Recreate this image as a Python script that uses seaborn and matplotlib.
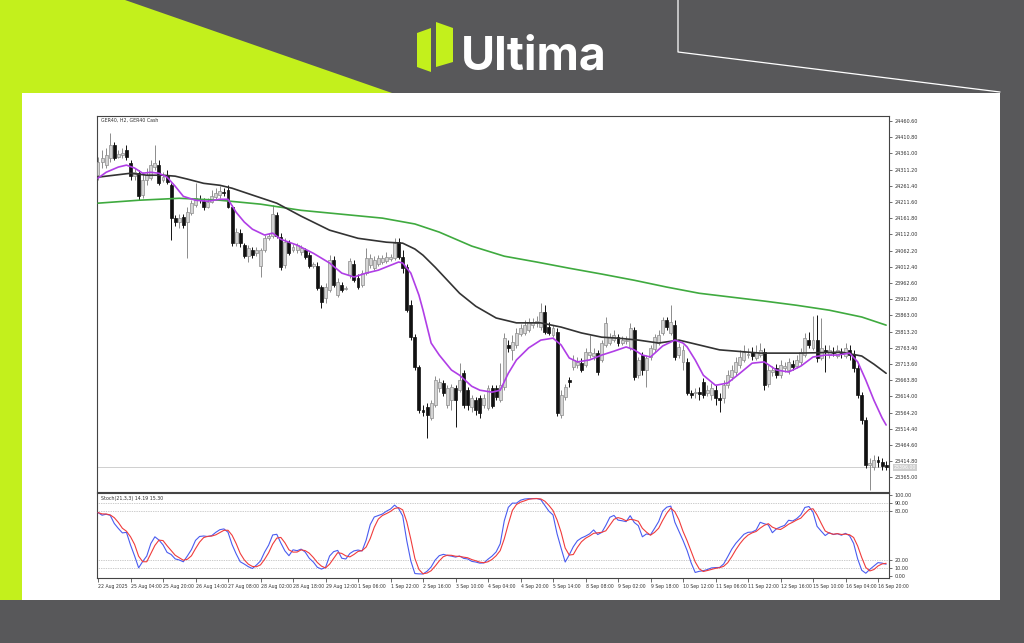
import numpy as np
import pandas as pd
import matplotlib
matplotlib.use("Agg")
import matplotlib.pyplot as plt
from matplotlib.patches import Polygon, Rectangle
import seaborn as sns

# ---------------- data ----------------
symbol_label = "GER40, H2, GER40 Cash"
brand = "Ultima"

opens = [24294, 24334, 24325, 24346, 24386, 24349, 24356, 24371, 24331, 24291,
         24300, 24233, 24279, 24285, 24319, 24325, 24279, 24294, 24263, 24162,
         24150, 24165, 24150, 24177, 24202, 24220, 24214, 24196, 24211, 24226,
         24233, 24242, 24248, 24196, 24085, 24116, 24079, 24045, 24064, 24054,
         24014, 24064, 24100, 24107, 24171, 24104, 24017, 24088, 24064, 24064,
         24057, 24064, 24048, 24014, 24014, 23950, 23916, 23940, 24033, 23925,
         23956, 23944, 23987, 24020, 23978, 23956, 23993, 24017, 24008, 24020,
         24027, 24030, 24036, 24039, 24088, 24042, 24011, 23894, 23796, 23704,
         23572, 23581, 23548, 23588, 23639, 23655, 23588, 23602, 23639, 23633,
         23685, 23633, 23581, 23602, 23609, 23588, 23578, 23639, 23639, 23602,
         23642, 23772, 23757, 23772, 23805, 23809, 23818, 23833, 23840, 23827,
         23873, 23827, 23803, 23812, 23557, 23612, 23664, 23704, 23710, 23716,
         23710, 23741, 23738, 23747, 23726, 23772, 23778, 23787, 23796, 23778,
         23784, 23763, 23818, 23679, 23741, 23695, 23735, 23760, 23778, 23809,
         23849, 23809, 23833, 23741, 23720, 23720, 23624, 23624, 23627, 23658,
         23624, 23618, 23633, 23609, 23609, 23648, 23673, 23689, 23710, 23726,
         23741, 23750, 23732, 23741, 23750, 23651, 23689, 23701, 23679, 23701,
         23695, 23713, 23707, 23720, 23741, 23787, 23763, 23787, 23732, 23757,
         23741, 23750, 23738, 23750, 23738, 23757, 23744, 23701, 23618, 23541,
         23403, 23396, 23418, 23412, 23403]
closes = [24334, 24346, 24356, 24386, 24346, 24359, 24362, 24349, 24291, 24303,
          24229, 24279, 24294, 24325, 24331, 24269, 24288, 24273, 24162, 24150,
          24162, 24140, 24180, 24208, 24223, 24217, 24196, 24211, 24229, 24239,
          24245, 24239, 24196, 24085, 24119, 24085, 24045, 24070, 24048, 24064,
          24064, 24100, 24107, 24174, 24107, 24011, 24088, 24054, 24073, 24079,
          24070, 24042, 24014, 24020, 23947, 23904, 23950, 24033, 23956, 23965,
          23940, 23947, 24030, 23971, 23950, 23993, 24039, 24039, 24033, 24039,
          24039, 24042, 24042, 24085, 24042, 24008, 23879, 23796, 23704, 23572,
          23566, 23557, 23594, 23664, 23658, 23624, 23639, 23642, 23602, 23664,
          23588, 23588, 23609, 23572, 23563, 23609, 23639, 23584, 23612, 23648,
          23793, 23763, 23781, 23809, 23824, 23833, 23843, 23843, 23846, 23873,
          23812, 23809, 23824, 23563, 23618, 23642, 23658, 23726, 23720, 23695,
          23750, 23750, 23747, 23689, 23778, 23840, 23796, 23803, 23778, 23787,
          23787, 23824, 23673, 23726, 23695, 23732, 23763, 23796, 23803, 23849,
          23827, 23843, 23735, 23766, 23757, 23624, 23618, 23627, 23621, 23618,
          23633, 23639, 23609, 23602, 23648, 23679, 23695, 23720, 23735, 23750,
          23744, 23738, 23750, 23757, 23648, 23695, 23695, 23679, 23710, 23707,
          23720, 23704, 23726, 23750, 23793, 23772, 23787, 23732, 23763, 23750,
          23757, 23747, 23757, 23744, 23763, 23741, 23701, 23618, 23541, 23403,
          23409, 23418, 23412, 23399, 23396]
highs = [24349, 24371, 24377, 24423, 24396, 24371, 24377, 24386, 24340, 24316,
         24309, 24303, 24316, 24340, 24386, 24340, 24303, 24309, 24269, 24171,
         24174, 24174, 24196, 24217, 24269, 24233, 24223, 24223, 24248, 24254,
         24260, 24254, 24263, 24202, 24131, 24128, 24085, 24079, 24073, 24073,
         24070, 24110, 24116, 24202, 24180, 24116, 24100, 24094, 24082, 24085,
         24079, 24070, 24057, 24027, 24027, 23956, 23962, 24048, 24045, 23978,
         23965, 23953, 24039, 24033, 23990, 24002, 24070, 24051, 24045, 24048,
         24048, 24057, 24051, 24100, 24100, 24064, 24020, 23910, 23805, 23710,
         23588, 23594, 23602, 23676, 23670, 23664, 23648, 23651, 23648, 23716,
         23695, 23642, 23618, 23612, 23618, 23621, 23648, 23648, 23648, 23716,
         23809, 23787, 23803, 23824, 23836, 23849, 23855, 23855, 23861, 23901,
         23894, 23843, 23833, 23824, 23633, 23651, 23673, 23741, 23735, 23732,
         23763, 23803, 23763, 23757, 23787, 23858, 23809, 23818, 23805, 23800,
         23800, 23840, 23827, 23735, 23750, 23741, 23772, 23805, 23818, 23858,
         23858, 23894, 23849, 23778, 23772, 23732, 23633, 23639, 23642, 23670,
         23648, 23655, 23648, 23624, 23664, 23695, 23710, 23735, 23757, 23772,
         23763, 23766, 23772, 23778, 23763, 23710, 23707, 23713, 23726, 23720,
         23732, 23726, 23741, 23763, 23809, 23812, 23861, 23864, 23855, 23772,
         23772, 23766, 23772, 23763, 23778, 23772, 23757, 23713, 23627, 23550,
         23424, 23433, 23430, 23424, 23415]
lows = [24279, 24316, 24316, 24334, 24340, 24346, 24346, 24340, 24279, 24279,
        24217, 24223, 24263, 24279, 24309, 24263, 24273, 24266, 24094, 24137,
        24131, 24131, 24039, 24171, 24196, 24208, 24186, 24193, 24208, 24217,
        24223, 24229, 24193, 24076, 24076, 24073, 24039, 24027, 24039, 24045,
        23981, 24057, 24094, 24100, 24100, 24002, 24008, 24048, 24057, 24054,
        24048, 24036, 24008, 24008, 23940, 23885, 23901, 23934, 23950, 23919,
        23934, 23940, 23978, 23965, 23944, 23950, 23987, 24008, 24002, 24014,
        24020, 24024, 24030, 24033, 24036, 23993, 23873, 23787, 23695, 23563,
        23554, 23486, 23541, 23581, 23627, 23615, 23578, 23572, 23519, 23627,
        23578, 23572, 23566, 23557, 23548, 23578, 23572, 23578, 23602, 23597,
        23633, 23750, 23726, 23763, 23800, 23803, 23812, 23824, 23827, 23818,
        23805, 23803, 23796, 23554, 23548, 23602, 23642, 23695, 23701, 23689,
        23704, 23732, 23726, 23679, 23720, 23766, 23772, 23781, 23769, 23772,
        23775, 23757, 23664, 23670, 23679, 23642, 23726, 23750, 23772, 23803,
        23818, 23803, 23726, 23732, 23695, 23618, 23609, 23609, 23602, 23609,
        23615, 23602, 23588, 23566, 23594, 23639, 23664, 23679, 23701, 23720,
        23732, 23726, 23726, 23735, 23633, 23642, 23676, 23670, 23670, 23689,
        23682, 23695, 23701, 23710, 23735, 23763, 23757, 23720, 23726, 23689,
        23732, 23738, 23732, 23732, 23732, 23726, 23689, 23609, 23529, 23393,
        23326, 23387, 23396, 23387, 23387]

# moving averages (bar index, price)
ma_fast_idx = [0, 2, 5, 7, 9, 11, 13, 15, 17, 19, 21, 24, 27, 30, 32, 34, 36, 38, 41, 43,
               45, 49, 53, 57, 60, 63, 66, 69, 72, 74, 75, 77, 79, 80, 82, 84, 87, 89, 92, 94,
               97, 99, 101, 103, 106, 109, 112, 114, 116, 118, 121, 124, 127, 130, 132, 134, 136, 139, 142, 144,
               145, 147, 149, 152, 155, 158, 161, 164, 167, 170, 173, 176, 179, 182, 185, 187, 189, 191, 193, 194]
ma_fast_val = [24285, 24303, 24319, 24325, 24316, 24300, 24303, 24300, 24288, 24260,
               24229, 24217, 24214, 24220, 24220, 24180, 24150, 24128, 24110, 24116,
               24097, 24079, 24054, 24024, 23993, 23981, 23993, 24002, 24017, 24027,
               24024, 23993, 23925, 23879, 23778, 23741, 23695, 23679, 23645, 23633,
               23627, 23633, 23685, 23726, 23763, 23787, 23793, 23772, 23732, 23720,
               23726, 23741, 23753, 23766, 23757, 23741, 23735, 23769, 23787, 23778,
               23766, 23726, 23679, 23648, 23655, 23685, 23716, 23720, 23695, 23689,
               23707, 23735, 23741, 23741, 23747, 23720, 23664, 23602, 23548, 23526]
ma_mid_idx = [0, 8, 12, 16, 19, 22, 26, 30, 33, 38, 44, 50, 57, 64, 71, 75, 78, 80, 83, 86,
              89, 93, 98, 103, 109, 114, 119, 124, 128, 133, 138, 143, 148, 153, 163, 173, 183, 188, 191, 194]
ma_mid_val = [24288, 24300, 24294, 24294, 24291, 24282, 24269, 24263, 24254, 24233,
              24208, 24168, 24125, 24100, 24088, 24085, 24067, 24048, 24011, 23971,
              23931, 23891, 23855, 23840, 23840, 23827, 23809, 23796, 23793, 23787,
              23778, 23787, 23772, 23757, 23747, 23747, 23750, 23738, 23713, 23685]
ma_slow_idx = [0, 10, 20, 30, 40, 50, 60, 70, 78, 84, 92, 100, 108, 116, 124, 132, 140, 148, 156, 164,
               172, 180, 188, 194]
ma_slow_val = [24208, 24217, 24223, 24217, 24205, 24186, 24174, 24162, 24144, 24119,
               24076, 24045, 24027, 24008, 23990, 23971, 23950, 23931, 23919, 23907,
               23894, 23879, 23858, 23833]

price_ticks = [24460.60, 24410.80, 24361.00, 24311.20, 24261.40, 24211.60, 24161.80,
               24112.00, 24062.20, 24012.40, 23962.60, 23912.80, 23863.00, 23813.20,
               23763.40, 23713.60, 23663.80, 23614.00, 23564.20, 23514.40, 23464.60,
               23414.80, 23365.00]
stoch_ticks = [100, 90, 80, 20, 10, 0]
stoch_levels = [90, 80, 20, 10]
time_labels = ["22 Aug 2025", "25 Aug 04:00", "25 Aug 20:00", "26 Aug 14:00", "27 Aug 08:00",
               "28 Aug 02:00", "28 Aug 18:00", "29 Aug 12:00", "1 Sep 06:00", "1 Sep 22:00",
               "2 Sep 16:00", "3 Sep 10:00", "4 Sep 04:00", "4 Sep 20:00", "5 Sep 14:00",
               "8 Sep 08:00", "9 Sep 02:00", "9 Sep 18:00", "10 Sep 12:00", "11 Sep 06:00",
               "11 Sep 22:00", "12 Sep 16:00", "15 Sep 10:00", "16 Sep 04:00", "16 Sep 20:00"]
bars_per_label = 8
stoch_k, stoch_slow, stoch_d = 21, 3, 3

# ---------------- frame ----------------
sns.set_theme(style="white")
plt.rcParams['font.family'] = ['DejaVu Sans']

W, H = 1024, 643
fig = plt.figure(figsize=(W / 100, H / 100), dpi=100)
fig.patch.set_facecolor('#58585a')
bg = fig.add_axes([0, 0, 1, 1])
bg.set_xlim(0, W)
bg.set_ylim(H, 0)
bg.axis('off')

lime = '#c3f01c'
dark = '#58585a'
bg.add_patch(Rectangle((0, 0), W, H, color=dark, zorder=0))
bg.add_patch(Polygon([(0, 0), (125, 0), (392, 93), (22, 93), (22, 600), (0, 600)], closed=True,
                     color=lime, zorder=1, lw=0))
bg.add_patch(Rectangle((22, 93), 978, 507, color='white', zorder=2, lw=0))
# thin white outline lines top right
bg.plot([678, 678, 1000], [0, 52, 92], color='white', lw=0.9, zorder=3)
# logo
bg.add_patch(Polygon([(417, 33), (431, 28), (431, 72), (417, 67)], closed=True, color=lime, zorder=3, lw=0))
bg.add_patch(Polygon([(436, 22), (453, 28), (453, 62), (436, 67)], closed=True, color=lime, zorder=3, lw=0))
bg.text(461, 69, brand, color='white', fontsize=33.5, fontweight='bold', family=['Inter', 'DejaVu Sans'],
        ha='left', va='baseline', zorder=3)


def rect(x0, y0, x1, y1):
    return [x0 / W, 1 - y1 / H, (x1 - x0) / W, (y1 - y0) / H]


ax = fig.add_axes(rect(97, 116, 889, 492))
axs = fig.add_axes(rect(97, 493, 889, 578))

df = pd.DataFrame({'open': opens, 'high': highs, 'low': lows, 'close': closes})
df['idx'] = np.arange(len(df))
df['high'] = df[['high', 'open', 'close']].max(axis=1)
df['low'] = df[['low', 'open', 'close']].min(axis=1)
up = df['close'] >= df['open']

ax.set_facecolor('white')
# wicks
ax.vlines(df['idx'][up], df['low'][up], df['high'][up], color='#8c8c8c', lw=0.7, zorder=2)
ax.vlines(df['idx'][~up], df['low'][~up], df['high'][~up], color='#111111', lw=0.7, zorder=2)
# bodies
body_lo = df[['open', 'close']].min(axis=1)
body_h = (df['close'] - df['open']).abs().clip(lower=2.5)
ax.bar(df['idx'][up], body_h[up], bottom=body_lo[up], width=0.72, color='#d4d4d4',
       edgecolor='#8c8c8c', linewidth=0.5, zorder=3)
ax.bar(df['idx'][~up], body_h[~up], bottom=body_lo[~up], width=0.72, color='#111111',
       edgecolor='#111111', linewidth=0.5, zorder=3)

sns.lineplot(x=ma_slow_idx, y=ma_slow_val, ax=ax, color='#3faa3f', lw=1.2, zorder=4)
sns.lineplot(x=ma_mid_idx, y=ma_mid_val, ax=ax, color='#333333', lw=1.2, zorder=4)
sns.lineplot(x=ma_fast_idx, y=ma_fast_val, ax=ax, color='#b03ee6', lw=1.2, zorder=5)

last = closes[-1]
ax.axhline(last, color='#c8c8c8', lw=0.6, zorder=1)

x0 = -0.25
x1 = (889 - 98) / 4.0625
ax.set_xlim(x0, x1)
ax.set_ylim(23320, 24476)
ax.set_xticks([])
ax.yaxis.tick_right()
ax.set_yticks(price_ticks)
ax.set_yticklabels([f"{v:.2f}" for v in price_ticks])
ax.tick_params(axis='y', right=True, length=2.5, width=0.5, colors='#333333', labelsize=3.5, pad=1.5)
ax.set_ylabel('')
ax.set_xlabel('')
for s in ax.spines.values():
    s.set_color('#444444')
    s.set_linewidth(0.8)
ax.text(0.005, 0.995, symbol_label, transform=ax.transAxes, fontsize=3.4, color='#333333',
        ha='left', va='top')
ax.text(1.006, last, f"{last:.2f}", transform=ax.get_yaxis_transform(), fontsize=3.4,
        color='white', ha='left', va='center',
        bbox=dict(boxstyle='square,pad=0.25', fc='#cfcfcf', ec='none'))

# stochastic
hh = df['high'].rolling(stoch_k, min_periods=1).max()
ll = df['low'].rolling(stoch_k, min_periods=1).min()
num = (df['close'] - ll).rolling(stoch_slow, min_periods=1).sum()
den = (hh - ll).rolling(stoch_slow, min_periods=1).sum()
kline = 100 * num / den
dline = kline.rolling(stoch_d, min_periods=1).mean()
sdf = pd.DataFrame({'idx': df['idx'], 'k': kline, 'd': dline})
sns.lineplot(data=sdf, x='idx', y='k', ax=axs, color='#4a5cf0', lw=0.8, zorder=4)
sns.lineplot(data=sdf, x='idx', y='d', ax=axs, color='#f03c3c', lw=0.8, zorder=4)
for lv in stoch_levels:
    axs.axhline(lv, color='#9a9a9a', lw=0.5, ls=(0, (1, 1.5)), zorder=1)
axs.set_xlim(x0, x1)
axs.set_ylim(-3, 103)
axs.yaxis.tick_right()
axs.set_yticks(stoch_ticks)
axs.set_yticklabels([f"{v:.2f}" for v in stoch_ticks])
axs.tick_params(axis='y', right=True, length=2.5, width=0.5, colors='#333333', labelsize=3.5, pad=1.5)
tick_pos = [i * bars_per_label for i in range(len(time_labels))]
axs.set_xticks(tick_pos)
axs.set_xticklabels(time_labels)
axs.tick_params(axis='x', bottom=True, length=3, width=0.5, colors='#333333', labelsize=3.3, pad=1.0)
for lab in axs.get_xticklabels():
    lab.set_ha('left')
axs.set_xlabel('')
axs.set_ylabel('')
for s in axs.spines.values():
    s.set_color('#444444')
    s.set_linewidth(0.8)
axs.text(0.005, 0.97, f"Stoch({stoch_k},{stoch_slow},{stoch_d}) {kline.iloc[-1]:.2f} {dline.iloc[-1]:.2f}",
         transform=axs.transAxes, fontsize=3.4, color='#333333', ha='left', va='top')

fig.savefig('out.png', dpi=100)
